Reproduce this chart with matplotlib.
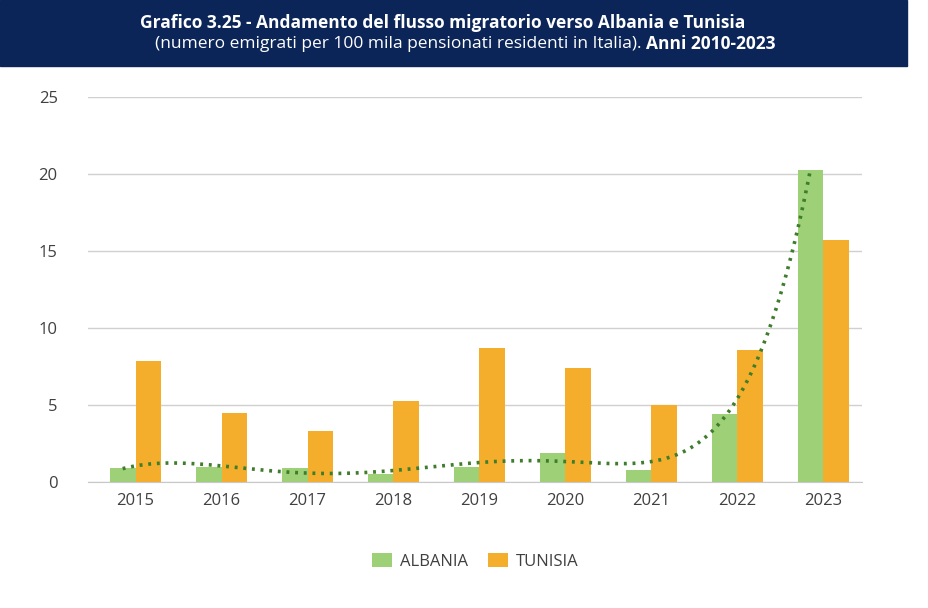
import numpy as np
import matplotlib.pyplot as plt

years = ["2015", "2016", "2017", "2018", "2019", "2020", "2021", "2022", "2023"]
albania = [0.9, 1.0, 0.9, 0.5, 1.0, 1.9, 0.8, 4.4, 20.3]
tunisia = [7.9, 4.5, 3.3, 5.3, 8.7, 7.4, 5.0, 8.6, 15.7]

plt.rcParams["font.family"] = "Open Sans"

fig = plt.figure(figsize=(9.29, 6.08), dpi=100)

# title banner
fig.patches.append(plt.Rectangle((0, 608 - 66), 907, 66, transform=None,
                                 color="#0b2559", zorder=0))
fig.text(0.476, 0.962, "Grafico 3.25 - Andamento del flusso migratorio verso Albania e Tunisia",
         ha="center", va="center", color="white", fontsize=12.5, fontweight="bold")
fig.text(0.695, 0.927, "(numero emigrati per 100 mila pensionati residenti in Italia). ",
         ha="right", va="center", color="white", fontsize=12.5)
fig.text(0.695, 0.927, "Anni 2010-2023",
         ha="left", va="center", color="white", fontsize=12.5, fontweight="bold")

ax = fig.add_axes([0.095, 0.207, 0.833, 0.633])
x = np.arange(len(years))
w = 0.3
ax.bar(x - w / 2, albania, w, color="#9dd077", label="ALBANIA", zorder=2)
ax.bar(x + w / 2, tunisia, w, color="#f5ae2c", label="TUNISIA", zorder=2)

# polynomial trendline on Albania
coef = np.polyfit(x, albania, 6)
xs = np.linspace(0, 8.0, 300)
ax.plot(xs - w / 2, np.polyval(coef, xs), linestyle=(0, (0.8, 1.6)), color="#3d7d2b",
        linewidth=2.6, zorder=3)

ax.set_ylim(0, 25)
ax.set_xlim(-0.55, 8.45)
ax.set_yticks(range(0, 26, 5))
ax.set_xticks(x)
ax.set_xticklabels(years)
ax.yaxis.grid(True, color="#d0d0d0", linewidth=1)
ax.set_axisbelow(True)
for s in ["top", "right", "left"]:
    ax.spines[s].set_visible(False)
ax.spines["bottom"].set_color("#c8c8c8")
ax.tick_params(length=0, labelsize=12, colors="#404040", pad=8)
ax.tick_params(axis="y", pad=22)

ax.legend(loc="upper center", bbox_to_anchor=(0.5, -0.145), ncol=2, frameon=False,
          fontsize=12, handlelength=1.2, handleheight=0.9, columnspacing=1.2,
          handletextpad=0.5, labelcolor="#404040")

fig.savefig("out.png", dpi=100)
